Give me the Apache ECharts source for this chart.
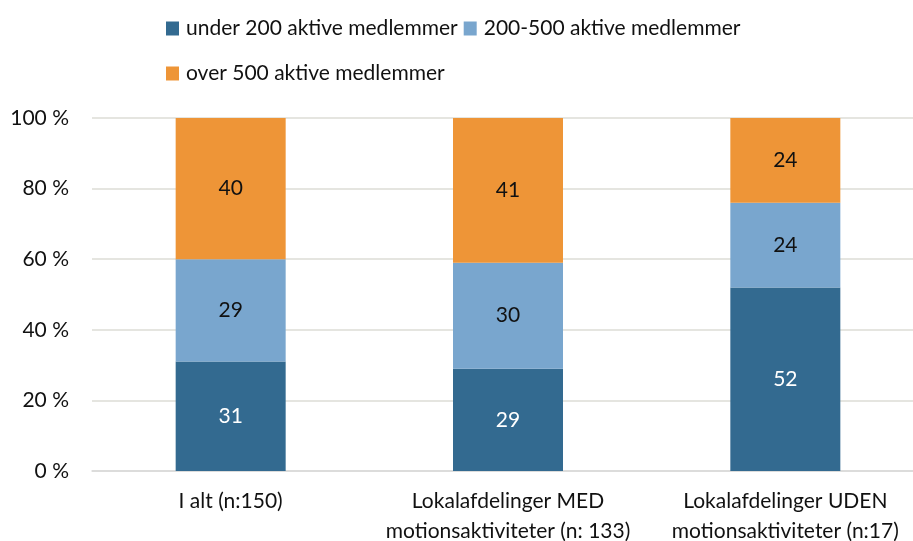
<!DOCTYPE html>
<html>
<head>
<meta charset="utf-8">
<script src="https://cdn.jsdelivr.net/npm/echarts@6/dist/echarts.min.js"></script>
<style>
  html, body { margin: 0; padding: 0; background: #fff; }
  #main { width: 913px; height: 541px; }
</style>
</head>
<body>
<div id="main"></div>
<script>
// data
let categories = ['I alt (n:150)', 'Lokalafdelinger MED\nmotionsaktiviteter (n: 133)', 'Lokalafdelinger UDEN\nmotionsaktiviteter (n:17)'];
let under200 = [31, 29, 52];
let mid200to500 = [29, 30, 24];
let over500 = [40, 41, 24];
let seriesNames = ['under 200 aktive medlemmer', '200-500 aktive medlemmer', 'over 500 aktive medlemmer'];

let font = 'Lato';

let myChart = echarts.init(document.getElementById('main'));

function makeSeries(name, data, color, labelColor) {
    return {
        name: name,
        type: 'bar',
        stack: 'total',
        data: data,
        barWidth: 110,
        itemStyle: { color: color },
        label: {
            show: true,
            position: 'inside',
            color: labelColor,
            fontFamily: font,
            fontSize: 21
        }
    };
}

let legendText = { fontSize: 21, color: '#111', fontFamily: font, padding: [0, 0, 0, 2] };

let option = {
    animation: false,
    textStyle: { fontFamily: font },
    legend: [{
        data: [seriesNames[0], seriesNames[1]],
        left: 161,
        top: 13,
        itemWidth: 13,
        itemHeight: 14,
        itemGap: 6,
        icon: 'rect',
        textStyle: legendText
    }, {
        data: [seriesNames[2]],
        left: 161,
        top: 58,
        itemWidth: 13,
        itemHeight: 14,
        icon: 'rect',
        textStyle: legendText
    }],
    grid: {
        left: 92,
        width: 832,
        top: 118,
        bottom: 70,
        containLabel: false,
        outerBoundsMode: 'none'
    },
    xAxis: {
        type: 'category',
        data: categories,
        axisTick: { show: false },
        axisLine: { lineStyle: { color: '#d9d9d9', width: 1.5 } },
        axisLabel: {
            interval: 0,
            color: '#111',
            fontSize: 21,
            fontFamily: font,
            lineHeight: 30,
            margin: 15
        }
    },
    yAxis: {
        type: 'value',
        min: 0,
        max: 100,
        interval: 20,
        axisLabel: {
            formatter: '{value} %',
            color: '#111',
            fontSize: 21,
            fontFamily: font,
            margin: 23
        },
        splitLine: { lineStyle: { color: '#dcdcd6', width: 1.5 } }
    },
    series: [
        makeSeries(seriesNames[0], under200, '#336a90', '#ffffff'),
        makeSeries(seriesNames[1], mid200to500, '#79a6ce', '#111111'),
        makeSeries(seriesNames[2], over500, '#ee9537', '#111111')
    ]
};

myChart.setOption(option);
</script>
</body>
</html>
